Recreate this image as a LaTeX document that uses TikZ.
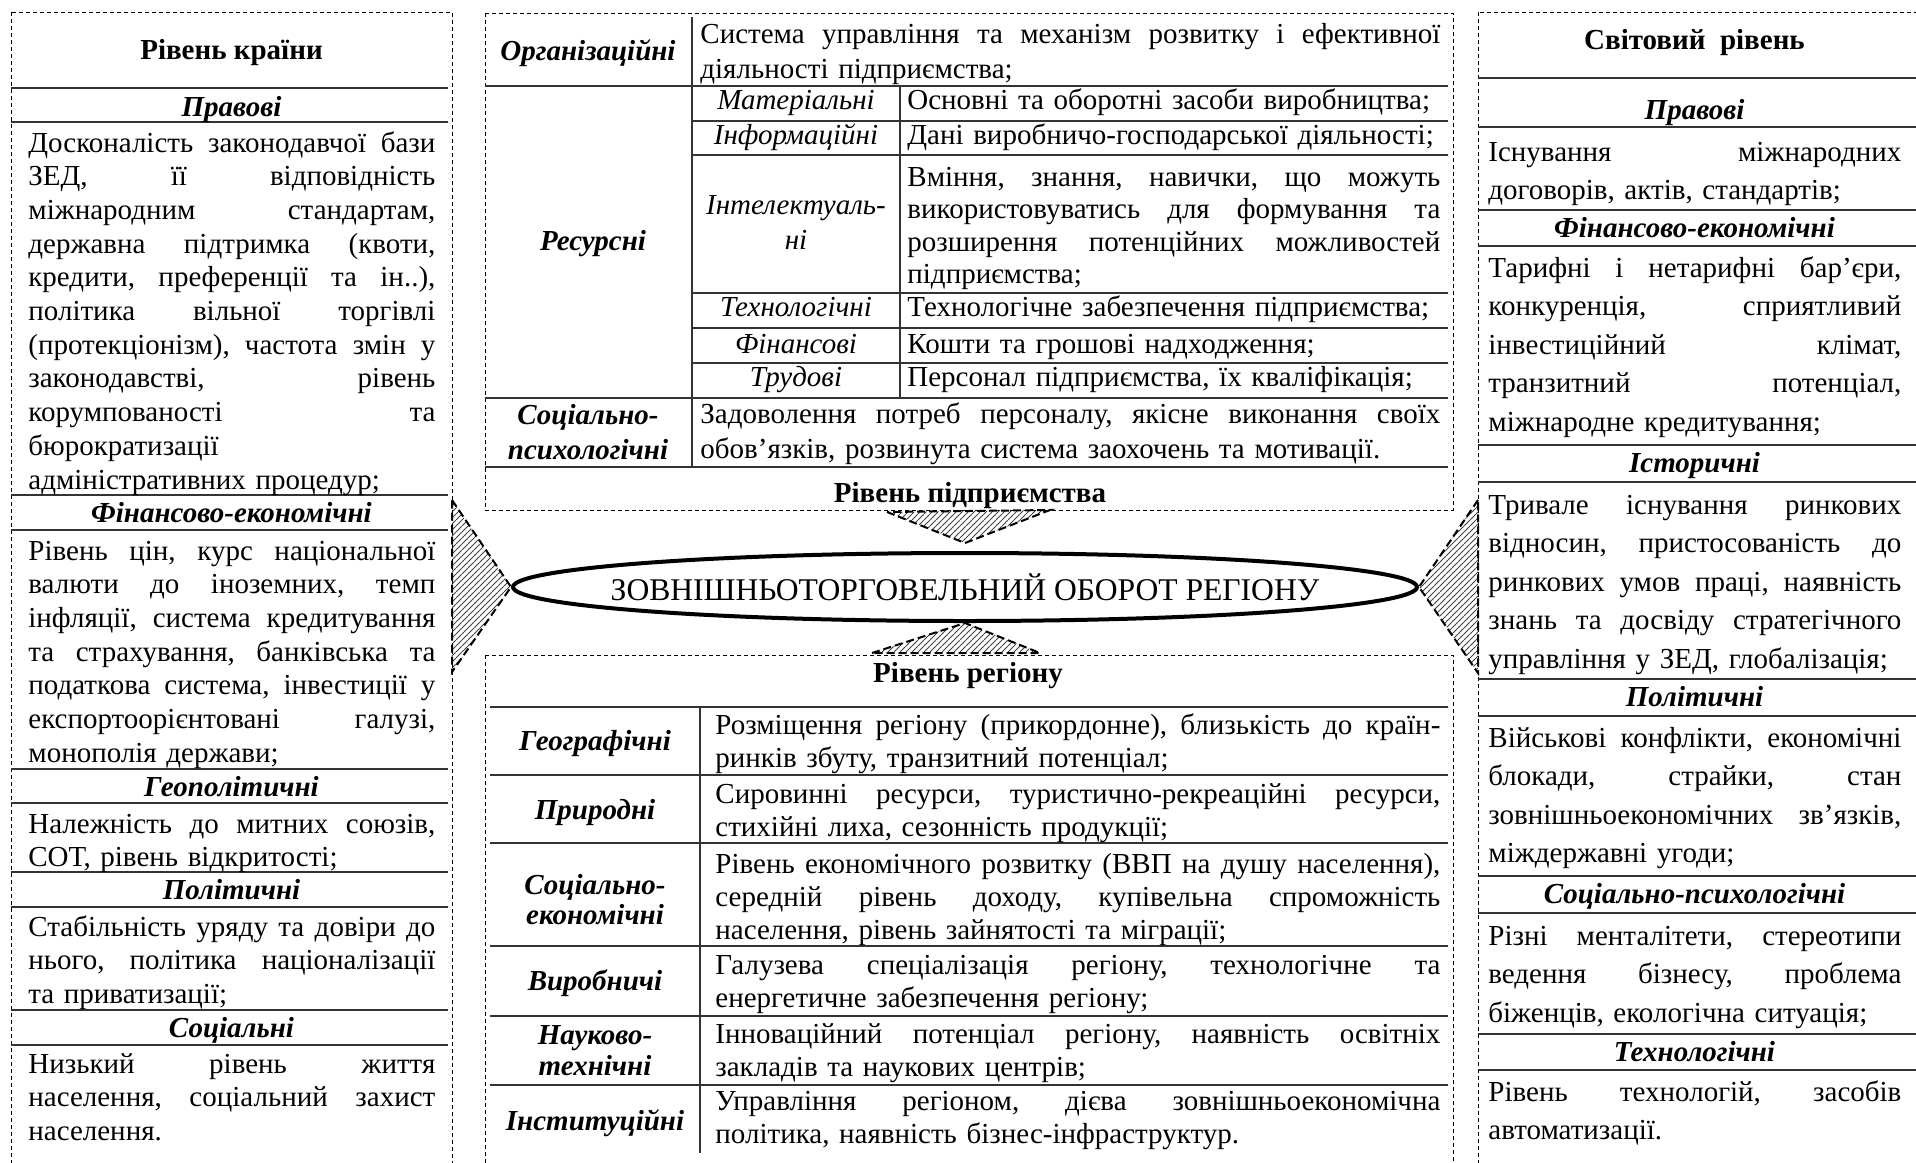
\documentclass[tikz,border=0pt]{standalone}
\usepackage{fontspec}
\setmainfont{Liberation Serif}
\usetikzlibrary{shapes.geometric,patterns,backgrounds}

% one justified line of a text block
\newcommand{\jl}[1]{{\frenchspacing\spaceskip=0.25em plus 1fil\makebox[\hsize][s]{#1}}\\}

\tikzset{
  panel/.style={draw, dash pattern=on 2pt off 1.5pt, line width=0.45pt},
  rule/.style={line width=0.8pt, black!80},
  hatch/.style={draw, dash pattern=on 4pt off 2pt, line width=1pt,
    pattern=north east lines, pattern color=black!75},
  ttl/.style={anchor=base, inner sep=0pt, font=\fontsize{14.5}{17}\selectfont\bfseries},
  head/.style={anchor=base, inner sep=0pt, font=\fontsize{14.5}{17}\selectfont\bfseries\itshape},
  lbl/.style={anchor=base, inner sep=0pt, text width=100pt, align=center, yshift=1pt,
    font=\fontsize{14.5}{#1}\selectfont\bfseries\itshape},
  lbl/.default=17.5pt,
  sub/.style={anchor=base, inner sep=0pt, text width=100pt, align=center, yshift=1.5pt,
    font=\fontsize{14.5}{17.5}\selectfont\itshape},
  ltxt/.style={anchor=base west, inner sep=0pt, text width=203.5pt,
    font=\fontsize{14.5}{16.85}\selectfont},
  rtxt/.style={anchor=base west, inner sep=0pt, text width=206.5pt,
    font=\fontsize{14.5}{19.25}\selectfont},
  ctxt/.style 2 args={anchor=base west, inner sep=0pt, text width=#1, yshift=1.5pt,
    font=\fontsize{14.5}{#2}\selectfont}
}

\begin{document}
\begin{tikzpicture}[x=0.5pt,y=-0.5pt]
\useasboundingbox (0,0) rectangle (1916,1162);

% dashed frames
\draw[panel] (11,12) rectangle (452,1180);
\draw[panel] (485,13) rectangle (1453,510);
\draw[panel] (485,655) rectangle (1453,1180);
\draw[panel] (1478,12) rectangle (1930,1180);

% country level
\foreach \y in {88,122,495,530,769,803,872,907,1010,1045}
  \draw[rule] (11,\y) -- (448,\y);
\node[ttl] (kraina) at (231.5,59) {Рівень країни};
\node[head] (kpravoh) at (231.5,116) {Правові};
\node[ltxt] (kpravo) at (28,152) {\jl{Досконалість законодавчої бази}\jl{ЗЕД, її відповідність}\jl{міжнародним стандартам,}\jl{державна підтримка (квоти,}\jl{кредити, преференції та ін..),}\jl{політика вільної торгівлі}\jl{(протекціонізм), частота змін у}\jl{законодавстві, рівень}\jl{корумпованості та}бюрократизації\\адміністративних процедур;};
\node[head] (kfinh) at (231.5,522) {Фінансово-економічні};
\node[ltxt] (kfin) at (28,560) {\jl{Рівень цін, курс національної}\jl{валюти до іноземних, темп}\jl{інфляції, система кредитування}\jl{та страхування, банківська та}\jl{податкова система, інвестиції у}\jl{експортоорієнтовані галузі,}монополія держави;};
\node[head] (kgeoh) at (231.5,796) {Геополітичні};
\node[ltxt] (kgeo) at (28,833) {\jl{Належність до митних союзів,}СОТ, рівень відкритості;};
\node[head] (kpolh) at (231.5,899) {Політичні};
\node[ltxt] (kpol) at (28,936) {\jl{Стабільність уряду та довіри до}\jl{нього, політика націоналізації}та приватизації;};
\node[head] (ksoch) at (231.5,1037) {Соціальні};
\node[ltxt] (ksoc) at (28,1073) {\jl{Низький рівень життя}\jl{населення, соціальний захист}населення.};

% enterprise level
\draw[rule] (485,86) -- (1448,86);
\foreach \y in {121,155,293,328,363}
  \draw[rule] (692,\y) -- (1448,\y);
\draw[rule] (485,398) -- (1448,398);
\draw[rule] (485,467) -- (1448,467);
\draw[rule] (692,17) -- (692,467);
\draw[rule] (900,86) -- (900,398);
\node[lbl] (porgl) at (588,62) {Організаційні};
\node[ctxt={370pt}{17.5pt}] (porg) at (700,46) {\jl{Система управління та механізм розвитку і ефективної}діяльності підприємства;};
\node[lbl] (presl) at (593,252) {Ресурсні};
\node[sub] (pmatl) at (796,112) {Матеріальні};
\node[ctxt={266.5pt}{16.3pt}] (pmat) at (907,112) {Основні та оборотні засоби виробництва;};
\node[sub] (pinfl) at (796,147) {Інформаційні};
\node[ctxt={266.5pt}{16.3pt}] (pinf) at (907,147) {Дані виробничо-господарської діяльності;};
\node[sub] (pintl) at (796,217) {Інтелектуаль-\\ні};
\node[ctxt={266.5pt}{16.3pt}] (pint) at (907,189) {\jl{Вміння, знання, навички, що можуть}\jl{використовуватись для формування та}\jl{розширення потенційних можливостей}підприємства;};
\node[sub] (ptechl) at (796,319) {Технологічні};
\node[ctxt={266.5pt}{16.3pt}] (ptech) at (907,319) {Технологічне забезпечення підприємства;};
\node[sub] (pfinl) at (796,356) {Фінансові};
\node[ctxt={266.5pt}{16.3pt}] (pfin) at (907,356) {Кошти та грошові надходження;};
\node[sub] (ptrudl) at (796,389) {Трудові};
\node[ctxt={266.5pt}{16.3pt}] (ptrud) at (907,389) {Персонал підприємства, їх кваліфікація;};
\node[lbl] (psocl) at (588,426) {Соціально-\\психологічні};
\node[ctxt={370pt}{17.5pt}] (psoc) at (700,426) {\jl{Задоволення потреб персоналу, якісне виконання своїх}обов’язків, розвинута система заохочень та мотивації.};
\node[ttl] (pidpr) at (970,502) {Рівень підприємства};

% region level
\node[ttl] (region) at (968,682) {Рівень регіону};
\foreach \y in {707,775,843,946,1016,1085}
  \draw[rule] (490,\y) -- (1448,\y);
\draw[rule] (700,707) -- (700,1153);
\node[lbl] (rgeol) at (595,752) {Географічні};
\node[ctxt={362.5pt}{16.6pt}] (rgeo) at (715,737) {\jl{Розміщення регіону (прикордонне), близькість до країн-}ринків збуту, транзитний потенціал;};
\node[lbl] (rpril) at (595,821) {Природні};
\node[ctxt={362.5pt}{16.6pt}] (rpri) at (715,806) {\jl{Сировинні ресурси, туристично-рекреаційні ресурси,}стихійні лиха, сезонність продукції;};
\node[lbl=15pt] (rsocl) at (595,896) {Соціально-\\економічні};
\node[ctxt={362.5pt}{16.6pt}] (rsoc) at (715,876) {\jl{Рівень економічного розвитку (ВВП на душу населення),}\jl{середній рівень доходу, купівельна спроможність}населення, рівень зайнятості та міграції;};
\node[lbl] (rvirl) at (595,992) {Виробничі};
\node[ctxt={362.5pt}{16.6pt}] (rvir) at (715,977) {\jl{Галузева спеціалізація регіону, технологічне та}енергетичне забезпечення регіону;};
\node[lbl=15.5pt] (rnaukl) at (595,1046) {Науково-\\технічні};
\node[ctxt={362.5pt}{16.6pt}] (rnauk) at (715,1046) {\jl{Інноваційний потенціал регіону, наявність освітніх}закладів та наукових центрів;};
\node[lbl] (rinstl) at (595,1132) {Інституційні};
\node[ctxt={362.5pt}{16.6pt}] (rinst) at (715,1113) {\jl{Управління регіоном, дієва зовнішньоекономічна}політика, наявність бізнес-інфраструктур.};

% world level
\foreach \y in {78,127,210,246,445,482,679,716,876,913,1034,1070}
  \draw[rule] (1478,\y) -- (1916,\y);
\node[ttl] (svit) at (1694.5,49) {Світовий\ \ рівень};
\node[head] (spravoh) at (1694.5,119) {Правові};
\node[rtxt] (spravo) at (1488,161) {\jl{Існування міжнародних}договорів, актів, стандартів;};
\node[head] (sfinh) at (1694.5,237) {Фінансово-економічні};
\node[rtxt] (sfin) at (1488,277) {\jl{Тарифні і нетарифні бар’єри,}\jl{конкуренція, сприятливий}\jl{інвестиційний клімат,}\jl{транзитний потенціал,}міжнародне кредитування;};
\node[head] (sisth) at (1694.5,472.5) {Історичні};
\node[rtxt] (sist) at (1488,514) {\jl{Тривале існування ринкових}\jl{відносин, пристосованість до}\jl{ринкових умов праці, наявність}\jl{знань та досвіду стратегічного}управління у ЗЕД, глобалізація;};
\node[head] (spolh) at (1694.5,706.5) {Політичні};
\node[rtxt] (spol) at (1488,747) {\jl{Військові конфлікти, економічні}\jl{блокади, страйки, стан}\jl{зовнішньоекономічних зв’язків,}міждержавні угоди;};
\node[head] (ssoch) at (1694.5,903.5) {Соціально-психологічні};
\node[rtxt] (ssoc) at (1488,945) {\jl{Різні менталітети, стереотипи}\jl{ведення бізнесу, проблема}біженців, екологічна ситуація;};
\node[head] (stechh) at (1694.5,1061) {Технологічні};
\node[rtxt] (stech) at (1488,1101) {\jl{Рівень технологій, засобів}автоматизації.};

% centre
\node[draw, ellipse, line width=2pt, fill=white, minimum width=452pt, minimum height=34pt,
  inner sep=0pt, font=\fontsize{15.8}{18}\selectfont] (oborot) at (965,587)
  {\makebox[0pt]{ЗОВНІШНЬОТОРГОВЕЛЬНИЙ ОБОРОТ РЕГІОНУ}};

\coordinate (lt) at (452,500);
\coordinate (lb) at (452,672);
\coordinate (rt) at (1478,500);
\coordinate (rb) at (1478,673);
\coordinate (tl) at (887,512);
\coordinate (tr) at (1050,510);
\coordinate (bl) at (872,653);
\coordinate (br) at (1040,653);
\begin{scope}[on background layer]
\draw[hatch] (lt) -- (oborot.west) -- (lb) -- cycle;
\draw[hatch] (rt) -- (oborot.east) -- (rb) -- cycle;
\draw[hatch] (tl) -- ([yshift=4pt]oborot.north) -- (tr) -- cycle;
\draw[hatch] (bl) -- (oborot.south) -- (br) -- cycle;
\end{scope}
\end{tikzpicture}
\end{document}
